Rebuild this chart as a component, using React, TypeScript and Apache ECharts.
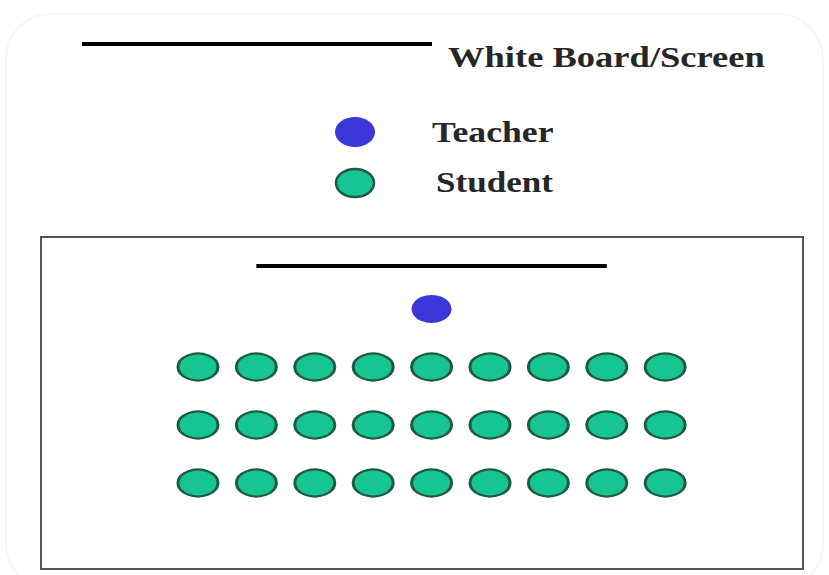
import React, { useEffect, useRef } from "react";
import * as echarts from "echarts";

// Seat layout (column index, row index). Row 0 = teacher, rows 1..3 = students.
const studentColumns = [1, 2, 3, 4, 5, 6, 7, 8, 9];
const studentRows = [1, 2, 3];
const teacherSeat = [5, 0];
const boardSegment = [[2, -0.74], [8, -0.74]];
const legendLabels = ["White Board/Screen", "Teacher", "Student"];

const TEACHER_COLOR = "#3b36d8";
const STUDENT_FILL = "#17c594";
const STUDENT_STROKE = "#1f5a42";

export default function App() {
  const ref = useRef<HTMLDivElement>(null);
  useEffect(() => {
    if (!ref.current) return;
    const chart = echarts.init(ref.current, null, { renderer: "svg" });
    const students: number[][] = [];
    for (const r of studentRows) for (const c of studentColumns) students.push([c, r]);
    const font = "bold 29px 'Liberation Serif', 'Times New Roman', serif";
    const textFill = "#262626";
    chart.setOption({
      animation: false,
      backgroundColor: "#ffffff",
      grid: {
        left: 41,
        top: 237,
        width: 762,
        height: 332,
        show: true,
        borderColor: "#555555",
        borderWidth: 2,
        backgroundColor: "#ffffff",
      },
      xAxis: { type: "value", min: -1.688, max: 11.36, show: false },
      yAxis: { type: "value", min: -1.241, max: 4.483, inverse: true, show: false },
      series: [
        {
          type: "line",
          data: boardSegment,
          symbol: "none",
          lineStyle: { color: "#000000", width: 4 },
        },
        {
          type: "scatter",
          data: [teacherSeat],
          symbol: "circle",
          symbolSize: [40, 28],
          itemStyle: { color: TEACHER_COLOR, opacity: 1 },
        },
        {
          type: "scatter",
          data: students,
          symbol: "circle",
          symbolSize: [40, 27],
          itemStyle: { color: STUDENT_FILL, borderColor: STUDENT_STROKE, borderWidth: 2.5, opacity: 1 },
        },
      ],
      graphic: [
        {
          type: "rect",
          shape: { x: 6, y: 14, width: 817, height: 575, r: 45 },
          style: { fill: "none", stroke: "#f6f6f6", lineWidth: 2 },
          silent: true,
        },
        {
          type: "line",
          shape: { x1: 82, y1: 44, x2: 432, y2: 44 },
          style: { stroke: "#000000", lineWidth: 4 },
        },
        {
          type: "text",
          x: 448,
          y: 57,
          scaleX: 1.26,
          style: { text: legendLabels[0], font, fill: textFill, verticalAlign: "middle" },
        },
        {
          type: "ellipse",
          shape: { cx: 355, cy: 132, rx: 20, ry: 15 },
          style: { fill: TEACHER_COLOR },
        },
        {
          type: "text",
          x: 432,
          y: 132,
          scaleX: 1.23,
          style: { text: legendLabels[1], font, fill: textFill, verticalAlign: "middle" },
        },
        {
          type: "ellipse",
          shape: { cx: 355, cy: 183, rx: 19, ry: 14 },
          style: { fill: STUDENT_FILL, stroke: STUDENT_STROKE, lineWidth: 2.5 },
        },
        {
          type: "text",
          x: 436,
          y: 182,
          scaleX: 1.21,
          style: { text: legendLabels[2], font, fill: textFill, verticalAlign: "middle" },
        },
      ],
    });
    return () => chart.dispose();
  }, []);
  return (
    <div
      ref={ref}
      style={{ position: "absolute", left: 0, top: 0, width: 829, height: 575 }}
    />
  );
}
